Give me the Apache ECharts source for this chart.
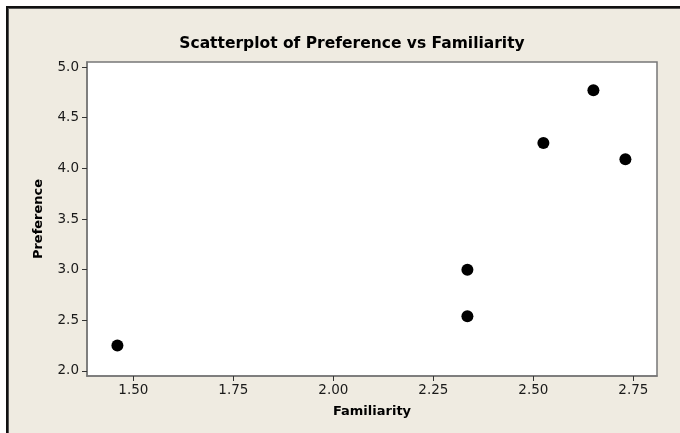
<!DOCTYPE html>
<html lang="en">
<head>
  <meta charset="UTF-8">
  <title>Scatterplot of Preference vs Familiarity</title>
  <script src="https://cdn.jsdelivr.net/npm/echarts@6/dist/echarts.min.js"></script>
  <style>
    html, body { margin: 0; padding: 0; background: #fff; }
    #chart { width: 680px; height: 433px; }
  </style>
</head>
<body>
<div id="chart"></div>
<script>
  // data
  var familiarity = [1.46, 2.335, 2.335, 2.525, 2.65, 2.73];
  var preference = [2.25, 3.0, 2.54, 4.25, 4.77, 4.09];
  var xTicks = [1.5, 1.75, 2.0, 2.25, 2.5, 2.75];
  var yTicks = [2.0, 2.5, 3.0, 3.5, 4.0, 4.5, 5.0];

  var points = [];
  for (var i = 0; i < familiarity.length; i++) {
    points.push([familiarity[i], preference[i]]);
  }

  var font = 'DejaVu Sans, Verdana, sans-serif';
  var chart = echarts.init(document.getElementById('chart'));

  chart.setOption({
    backgroundColor: '#fff',
    animation: false,
    graphic: [
      // beige panel + dark frame on top and left
      { type: 'rect', shape: { x: 9, y: 9, width: 671, height: 424 }, style: { fill: '#efebe1' }, z: -10 },
      { type: 'rect', shape: { x: 6, y: 6, width: 674, height: 2 }, style: { fill: '#111' }, z: -9 },
      { type: 'rect', shape: { x: 6, y: 6, width: 2, height: 427 }, style: { fill: '#111' }, z: -9 },
      { type: 'rect', shape: { x: 8, y: 8, width: 672, height: 1 }, style: { fill: '#555' }, z: -9 },
      { type: 'rect', shape: { x: 8, y: 8, width: 1, height: 425 }, style: { fill: '#555' }, z: -9 }
    ],
    title: {
      text: 'Scatterplot of Preference vs Familiarity',
      left: 347,
      top: 31,
      textAlign: 'center',
      textStyle: { fontFamily: font, fontSize: 15.5, fontWeight: 'bold', color: '#000' }
    },
    grid: {
      left: 87, top: 62, right: 23, bottom: 57,
      show: true,
      backgroundColor: '#fff',
      borderColor: '#777',
      borderWidth: 1.5
    },
    xAxis: {
      type: 'value',
      min: 1.384,
      max: 2.809,
      name: 'Familiarity',
      nameLocation: 'middle',
      nameGap: 29,
      nameTextStyle: { fontFamily: font, fontSize: 13, fontWeight: 'bold', color: '#000' },
      splitLine: { show: false },
      axisLine: { show: true, lineStyle: { color: '#777', width: 1.5 } },
      axisTick: { show: true, customValues: xTicks, length: 5, lineStyle: { color: '#333' } },
      axisLabel: {
        customValues: xTicks,
        margin: 7,
        fontFamily: font, fontSize: 13.5, color: '#1a1a1a',
        formatter: function (v) { return v.toFixed(2); }
      }
    },
    yAxis: {
      type: 'value',
      min: 1.95,
      max: 5.05,
      name: 'Preference',
      nameLocation: 'middle',
      nameGap: 42,
      nameTextStyle: { fontFamily: font, fontSize: 13, fontWeight: 'bold', color: '#000' },
      splitLine: { show: false },
      axisLine: { show: true, lineStyle: { color: '#777', width: 1.5 } },
      axisTick: { show: true, customValues: yTicks, length: 5, lineStyle: { color: '#333' } },
      axisLabel: {
        customValues: yTicks,
        margin: 8,
        fontFamily: font, fontSize: 13.5, color: '#1a1a1a',
        formatter: function (v) { return v.toFixed(1); }
      }
    },
    series: [{
      type: 'scatter',
      data: points,
      symbol: 'circle',
      symbolSize: 12,
      itemStyle: { color: '#000', opacity: 1 }
    }]
  });
</script>
</body>
</html>
